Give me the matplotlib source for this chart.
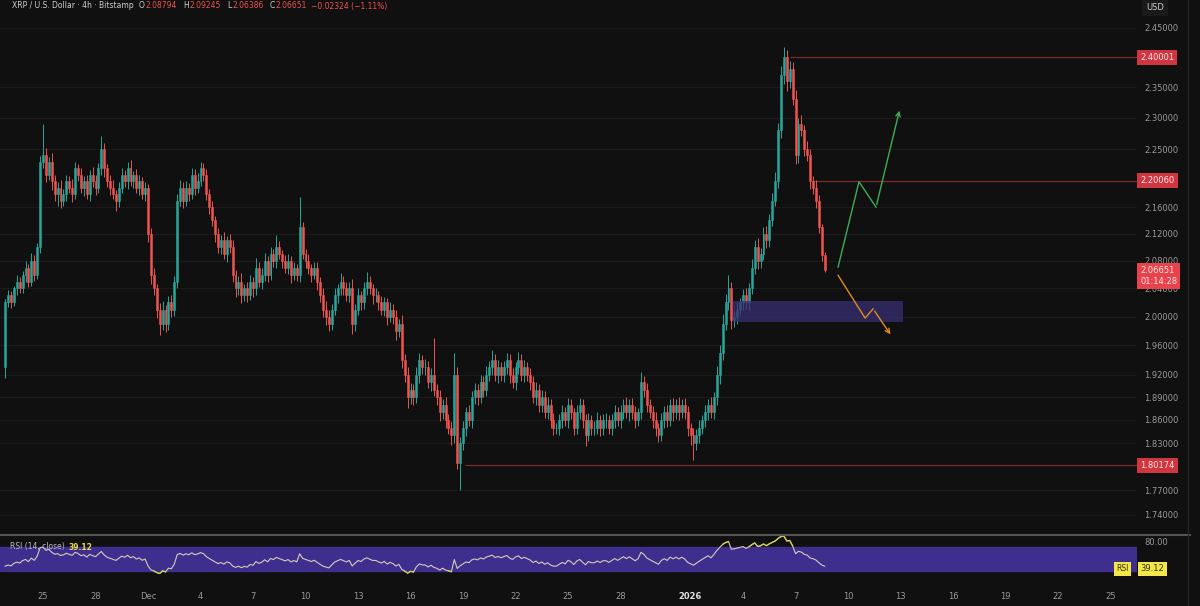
import numpy as np
import pandas as pd
import matplotlib
matplotlib.use("Agg")
import matplotlib.pyplot as plt
import matplotlib.dates as mdates
from matplotlib.patches import Rectangle
from matplotlib.lines import Line2D
from matplotlib.ticker import NullLocator

# XRP/USD 4h closes, first candle 2025-11-22 20:00
closes = [
    2.02, 2.03, 2.02, 2.04, 2.05, 2.04, 2.06, 2.07, 2.05, 2.08,
    2.06, 2.10, 2.23, 2.24, 2.21, 2.23, 2.20, 2.18, 2.19, 2.17,
    2.18, 2.20, 2.19, 2.18, 2.22, 2.21, 2.19, 2.20, 2.18, 2.21,
    2.20, 2.19, 2.22, 2.25, 2.22, 2.20, 2.19, 2.18, 2.17, 2.19,
    2.21, 2.20, 2.22, 2.20, 2.21, 2.19, 2.20, 2.18, 2.19, 2.12,
    2.06, 2.04, 2.01, 1.99, 2.01, 1.99, 2.02, 2.01, 2.05, 2.17,
    2.19, 2.17, 2.19, 2.18, 2.21, 2.19, 2.20, 2.22, 2.21, 2.18,
    2.16, 2.14, 2.12, 2.10, 2.11, 2.09, 2.11, 2.10, 2.06, 2.04,
    2.05, 2.03, 2.04, 2.03, 2.05, 2.04, 2.07, 2.05, 2.06, 2.08,
    2.06, 2.09, 2.08, 2.10, 2.09, 2.08, 2.07, 2.08, 2.06, 2.07,
    2.06, 2.13, 2.09, 2.08, 2.07, 2.06, 2.07, 2.05, 2.03, 2.01,
    2.00, 1.99, 2.01, 2.03, 2.04, 2.05, 2.04, 2.03, 2.04, 1.99,
    2.01, 2.03, 2.02, 2.04, 2.05, 2.04, 2.03, 2.03, 2.02, 2.01,
    2.02, 2.00, 2.01, 2.00, 1.98, 1.99, 1.94, 1.92, 1.89, 1.90,
    1.89, 1.92, 1.94, 1.93, 1.93, 1.91, 1.92, 1.90, 1.89, 1.87,
    1.88, 1.86, 1.85, 1.84, 1.92, 1.805, 1.83, 1.85, 1.87, 1.86,
    1.89, 1.90, 1.89, 1.91, 1.90, 1.92, 1.93, 1.94, 1.92, 1.93,
    1.92, 1.93, 1.94, 1.92, 1.91, 1.93, 1.94, 1.92, 1.93, 1.92,
    1.91, 1.89, 1.90, 1.88, 1.89, 1.87, 1.88, 1.86, 1.85, 1.85,
    1.86, 1.87, 1.86, 1.88, 1.87, 1.85, 1.87, 1.88, 1.86, 1.84,
    1.86, 1.85, 1.85, 1.86, 1.85, 1.86, 1.86, 1.85, 1.86, 1.87,
    1.86, 1.87, 1.88, 1.87, 1.88, 1.87, 1.86, 1.87, 1.91, 1.90,
    1.88, 1.87, 1.86, 1.85, 1.84, 1.86, 1.87, 1.86, 1.88, 1.87,
    1.88, 1.87, 1.88, 1.87, 1.85, 1.84, 1.83, 1.84, 1.85, 1.86,
    1.87, 1.88, 1.87, 1.89, 1.92, 1.95, 1.99, 2.02, 2.04, 1.995,
    2.00, 2.01, 2.02, 2.03, 2.02, 2.04, 2.07, 2.10, 2.08, 2.09,
    2.12, 2.11, 2.14, 2.17, 2.20, 2.28, 2.37, 2.40, 2.36, 2.38,
    2.33, 2.24, 2.29, 2.28, 2.25, 2.24, 2.20, 2.19, 2.17, 2.13,
    2.08794, 2.06651,
]
first_open = 1.93

# wick lengths in thousandths of a dollar
upper_wick = [
    5, 8, 6, 4, 9, 7, 5, 10, 6, 12,
    8, 6, 9, 50, 12, 8, 14, 10, 9, 12,
    7, 10, 8, 13, 9, 6, 11, 8, 10, 7,
    12, 9, 8, 20, 10, 7, 9, 11, 6, 8,
    10, 7, 9, 12, 6, 8, 10, 7, 9, 6,
    8, 10, 6, 9, 12, 7, 9, 11, 8, 10,
    12, 8, 10, 7, 11, 9, 12, 10, 8, 9,
    7, 10, 6, 9, 8, 12, 7, 9, 10, 6,
    8, 12, 7, 9, 10, 6, 14, 8, 9, 11,
    7, 10, 8, 18, 9, 6, 8, 10, 7, 9,
    6, 45, 8, 7, 10, 6, 9, 8, 7, 10,
    12, 9, 8, 10, 7, 12, 8, 9, 10, 14,
    8, 10, 7, 9, 14, 8, 6, 10, 7, 9,
    8, 6, 10, 8, 9, 7, 12, 8, 10, 9,
    8, 10, 9, 7, 11, 8, 9, 50, 8, 9,
    7, 10, 8, 9, 30, 10, 8, 9, 7, 10,
    8, 9, 7, 10, 8, 12, 9, 14, 8, 10,
    7, 9, 10, 8, 9, 7, 11, 8, 10, 7,
    9, 8, 10, 7, 9, 8, 10, 7, 9, 6,
    8, 10, 7, 9, 8, 6, 10, 9, 7, 8,
    9, 7, 8, 10, 6, 8, 9, 7, 8, 10,
    7, 9, 8, 10, 7, 9, 8, 6, 14, 8,
    9, 7, 8, 10, 6, 9, 8, 10, 7, 9,
    8, 10, 7, 9, 8, 6, 9, 8, 10, 7,
    9, 8, 10, 7, 12, 10, 14, 12, 20, 10,
    8, 10, 7, 9, 11, 8, 12, 10, 14, 9,
    10, 12, 9, 11, 14, 12, 16, 18, 12, 14,
    12, 16, 10, 14, 9, 12, 10, 8, 11, 9,
    5, 4.5,
]
lower_wick = [
    15, 6, 8, 5, 9, 7, 6, 10, 8, 7,
    9, 6, 8, 10, 12, 9, 14, 10, 18, 12,
    9, 11, 8, 12, 7, 10, 9, 13, 8, 10,
    9, 12, 8, 10, 14, 9, 11, 8, 16, 10,
    8, 9, 12, 7, 10, 9, 11, 8, 10, 12,
    14, 10, 12, 15, 9, 11, 8, 10, 9, 10,
    8, 11, 9, 10, 7, 12, 9, 8, 10, 9,
    10, 8, 12, 9, 10, 7, 11, 8, 10, 12,
    9, 11, 8, 10, 7, 12, 9, 8, 11, 9,
    10, 8, 9, 11, 7, 10, 8, 9, 12, 8,
    9, 10, 8, 11, 9, 10, 7, 12, 9, 10,
    12, 10, 9, 8, 11, 9, 10, 8, 9, 14,
    10, 8, 11, 9, 10, 8, 12, 9, 10, 8,
    9, 11, 8, 10, 12, 9, 11, 10, 14, 9,
    10, 8, 11, 9, 10, 8, 12, 9, 10, 11,
    9, 10, 8, 12, 10, 8, 35, 9, 11, 8,
    10, 9, 11, 8, 10, 9, 8, 10, 9, 11,
    8, 10, 9, 11, 8, 10, 9, 8, 10, 9,
    10, 8, 11, 9, 10, 8, 9, 11, 10, 8,
    9, 10, 8, 11, 9, 10, 8, 9, 10, 14,
    8, 10, 9, 8, 11, 9, 10, 8, 9, 10,
    8, 10, 9, 8, 11, 9, 10, 8, 9, 10,
    9, 8, 10, 11, 9, 8, 10, 9, 8, 11,
    9, 10, 8, 9, 11, 12, 22, 9, 10, 8,
    9, 10, 8, 9, 10, 12, 10, 9, 11, 12,
    9, 10, 8, 11, 9, 10, 8, 9, 12, 10,
    9, 11, 10, 8, 9, 10, 12, 14, 16, 12,
    10, 14, 12, 10, 11, 9, 12, 10, 11, 9,
    8, 2.65,
]
# closes before the visible window, only used to warm up the RSI
rsi_seed_closes = [2.01, 1.99, 2.00, 1.98, 1.97, 1.98, 1.96, 1.95, 1.96, 1.94, 1.95, 1.93]

price_ticks = [2.45, 2.35, 2.30, 2.25, 2.16, 2.12, 2.08, 2.04, 2.00,
               1.96, 1.92, 1.89, 1.86, 1.83, 1.77, 1.74]
levels = [2.40001, 2.20060, 1.80174]
level_starts = ["2026-01-06 16:30", "2026-01-08 00:00", "2025-12-19 02:40"]
zone_low, zone_high = 1.993, 2.022
zone_start, zone_end = "2026-01-03 10:20", "2026-01-13 03:30"
bull_path_t = ["2026-01-09 10:20", "2026-01-10 15:00", "2026-01-11 14:20", "2026-01-12 23:20"]
bull_path_p = [2.071, 2.199, 2.160, 2.316]
bear_path_t = ["2026-01-09 10:20", "2026-01-10 23:20", "2026-01-11 10:20", "2026-01-12 12:15"]
bear_path_p = [2.059, 1.998, 2.011, 1.972]
date_ticks = ["2025-11-25", "2025-11-28", "2025-12-01", "2025-12-04", "2025-12-07",
              "2025-12-10", "2025-12-13", "2025-12-16", "2025-12-19", "2025-12-22",
              "2025-12-25", "2025-12-28", "2026-01-01", "2026-01-04", "2026-01-07",
              "2026-01-10", "2026-01-13", "2026-01-16", "2026-01-19", "2026-01-22",
              "2026-01-25"]
date_labels = ["25", "28", "Dec", "4", "7", "10", "13", "16", "19", "22", "25",
               "28", "2026", "4", "7", "10", "13", "16", "19", "22", "25"]
header = [("XRP / U.S. Dollar · 4h · Bitstamp", "#cfcfcf", 5),
          ("O", "#cfcfcf", 1), ("2.08794", "red", 6),
          ("H", "#cfcfcf", 1), ("2.09245", "red", 6),
          ("L", "#cfcfcf", 1), ("2.06386", "red", 6),
          ("C", "#cfcfcf", 1), ("2.06651", "red", 4),
          ("−0.02324 (−1.11%)", "red", 0)]

BG = "#101010"
GREEN = "#26a69a"
RED = "#ef5350"
GREY = "#9a9a9a"
LEVEL = "#7e2a2e"

W, H = 1200, 606
fig = plt.figure(figsize=(W / 100, H / 100), dpi=100, facecolor=BG)
ax = fig.add_axes([0, 1 - 533 / H, 1137 / W, 533 / H], facecolor=BG)
rax = fig.add_axes([0, 1 - 584 / H, 1137 / W, 48 / H], facecolor=BG, sharex=ax)

times = pd.date_range("2025-11-22 20:00", periods=len(closes), freq="4h")
t = mdates.date2num(times)
c = np.array(closes)
o = np.array([first_open] + closes[:-1])
hi = np.maximum(o, c) + np.array(upper_wick) / 1000
lo = np.minimum(o, c) - np.array(lower_wick) / 1000
cols = np.where(c >= o, GREEN, RED)

ax.set_yscale("log")
ax.vlines(t, lo, hi, colors=cols, lw=0.7, zorder=2)
ax.bar(t, np.abs(c - o), bottom=np.minimum(o, c), width=0.11, color=cols,
       edgecolor=cols, lw=0.4, zorder=2)

x_left = mdates.date2num(pd.Timestamp("2025-11-22 13:00"))
x_right = mdates.date2num(pd.Timestamp("2026-01-26 12:15"))
ax.set_xlim(x_left, x_right)
ax.set_ylim(1.7179, 2.4985)

# horizontal levels
for lvl, st in zip(levels, level_starts):
    ax.hlines(lvl, mdates.date2num(pd.Timestamp(st)), x_right, color=LEVEL, lw=0.9, zorder=1)

# demand zone
zs, ze = mdates.date2num(pd.Timestamp(zone_start)), mdates.date2num(pd.Timestamp(zone_end))
ax.add_patch(Rectangle((zs, zone_low), ze - zs, zone_high - zone_low,
                       facecolor="#382e72", alpha=0.75, edgecolor="none", zorder=3))

# scenario paths
for pt, pp, col in [(bull_path_t, bull_path_p, "#3cae55"), (bear_path_t, bear_path_p, "#e08a1e")]:
    px = mdates.date2num(pd.to_datetime(pt))
    ax.plot(px[:-1], pp[:-1], color=col, lw=1.0, zorder=4)
    ax.annotate("", xy=(px[-1], pp[-1]), xytext=(px[-2], pp[-2]),
                arrowprops=dict(arrowstyle="->", color=col, lw=1.0, mutation_scale=8), zorder=4)

# price axis
ax.yaxis.tick_right()
ax.yaxis.set_minor_locator(NullLocator())
ax.set_yticks(price_ticks)
ax.set_yticklabels([f"{v:.5f}" for v in price_ticks])
ax.tick_params(axis="y", length=0, pad=5, labelsize=6, labelcolor=GREY)
ax.tick_params(axis="x", length=0, labelbottom=False)
ax.grid(axis="y", color="#1b1b1b", lw=0.8)
ax.grid(axis="x", visible=False)
for s in ax.spines.values():
    s.set_visible(False)

yt = ax.get_yaxis_transform()
for lvl in levels:
    ax.text(1.003, lvl, f"{lvl:.5f}", transform=yt, ha="left", va="center", fontsize=6,
            color="#ffe8e8", clip_on=False,
            bbox=dict(boxstyle="square,pad=0.35", fc="#d0363f", ec="none"))
ax.text(1.003, 2.058, f"{closes[-1]:.5f}\n01:14:28", transform=yt, ha="left", va="center",
        fontsize=6, color="#ffe8e8", linespacing=1.2, clip_on=False,
        bbox=dict(boxstyle="square,pad=0.35", fc="#e8424c", ec="none"))

# RSI panel
s = pd.Series(rsi_seed_closes + closes)
d = s.diff()
gain = d.clip(lower=0).ewm(alpha=1 / 14, adjust=False).mean()
loss = (-d.clip(upper=0)).ewm(alpha=1 / 14, adjust=False).mean()
rsi = (100 - 100 / (1 + gain / loss)).to_numpy()[len(rsi_seed_closes):]

rax.axhspan(30, 70, color="#3e2f8f", zorder=0)
rax.plot(t, rsi, color="#d8cbb6", lw=0.8, zorder=2)
ext = np.where((rsi > 70) | (rsi < 30), rsi, np.nan)
rax.plot(t, ext, color="#d6cf4c", lw=0.9, zorder=3)
rax.set_ylim(7.3, 89.3)
rax.yaxis.tick_right()
rax.set_yticks([80])
rax.set_yticklabels(["80.00"])
rax.tick_params(axis="y", length=0, pad=5, labelsize=6, labelcolor=GREY)
rax.set_xticks(mdates.date2num(pd.to_datetime(date_ticks)))
rax.set_xticklabels(date_labels)
rax.tick_params(axis="x", length=0, pad=6, labelsize=6, labelcolor=GREY)
for lab in rax.get_xticklabels():
    if lab.get_text() == "2026":
        lab.set_color("#e0e0e0")
        lab.set_fontweight("bold")
for sp in rax.spines.values():
    sp.set_visible(False)
rax.set_xlim(x_left, x_right)

rt = rax.get_yaxis_transform()
rax.text(0.982, 33, "RSI", transform=rt, ha="left", va="center",
         fontsize=5.5, color="#333300", clip_on=False,
         bbox=dict(boxstyle="square,pad=0.3", fc="#f2e64a", ec="none"))
rax.text(1.003, 33, "39.12", transform=rt, ha="left", va="center", fontsize=6,
         color="#333300", clip_on=False,
         bbox=dict(boxstyle="square,pad=0.3", fc="#f2e64a", ec="none"))

# header line, laid out piece by piece
renderer = fig.canvas.get_renderer()
xpos = 12
for txt, col, gap in header:
    tx = fig.text(xpos / W, 1 - 6 / H, txt, color=RED if col == "red" else col,
                  fontsize=5.5, va="center", ha="left")
    xpos += tx.get_window_extent(renderer).width + gap

fig.text(10 / W, 1 - 547 / H, "RSI (14, close)", color="#bdbdbd", fontsize=5.5, va="center")
fig.text(69 / W, 1 - 547 / H, "39.12", color="#e6d84a", fontsize=5.5, va="center", fontweight="bold")
fig.text(1155 / W, 1 - 7 / H, "USD", color="#cfcfcf", fontsize=6, va="center", ha="center",
         bbox=dict(boxstyle="square,pad=0.5", fc="#1a1a1a", ec="none"))

fig.add_artist(Line2D([0, 1190 / W], [1 - 535 / H] * 2, color="#555555", lw=1.5))
fig.add_artist(Line2D([1188 / W] * 2, [0, 1], color="#262626", lw=1.0))

fig.savefig("out.png", dpi=100, facecolor=BG)
